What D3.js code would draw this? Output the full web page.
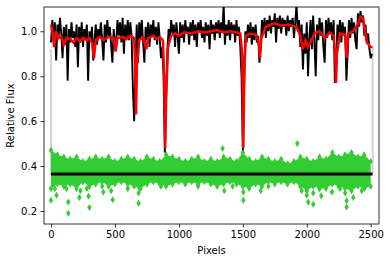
<!DOCTYPE html>
<html>
<head>
<meta charset="utf-8">
<script src="https://cdn.jsdelivr.net/npm/d3@7"></script>
<style>
  body { margin: 0; background: #fff; }
  text { font-family: "DejaVu Sans", sans-serif; }
</style>
</head>
<body>
<svg id="chart"></svg>
<script>
// observed spectrum, one value every 10 pixels (0..2510)
var fluxStep = 10;
var flux = [
  0.95, 1.05, 0.96, 1.04, 0.87, 1.03, 0.98, 1.06, 0.99, 0.88,
  1.02, 0.94, 1.03, 0.78, 1.01, 0.95, 1.04, 0.97, 1.00, 0.93,
  1.03, 0.84, 1.02, 0.96, 1.04, 0.93, 1.01, 0.97, 1.03, 0.78,
  1.00, 0.95, 1.02, 0.87, 0.96, 1.03, 0.94, 1.01, 0.97, 1.04,
  0.96, 0.87, 1.03, 0.95, 1.05, 0.98, 1.02, 0.94, 0.86, 1.01,
  0.93, 0.96, 1.05, 0.98, 1.04, 0.95, 1.06, 0.90, 1.03, 0.97,
  1.05, 0.96, 1.04, 0.98, 0.75, 0.60, 0.85, 1.03, 0.86, 1.04,
  0.97, 1.05, 0.95, 0.86, 1.02, 0.96, 1.04, 0.93, 1.03, 0.98,
  1.05, 0.96, 1.02, 0.94, 1.04, 0.97, 0.88, 0.93, 0.80, 0.46,
  0.70, 0.92, 1.01, 0.97, 1.05, 0.99, 1.03, 0.93, 1.04, 0.98,
  0.90, 1.04, 0.97, 1.03, 0.95, 1.05, 0.99, 1.02, 0.94, 1.04,
  0.98, 1.05, 0.96, 1.03, 0.93, 1.04, 1.00, 1.05, 0.97, 1.02,
  0.95, 1.04, 0.98, 1.03, 0.92, 1.05, 0.99, 1.03, 0.96, 1.04,
  0.99, 1.05, 0.97, 1.04, 1.00, 1.12, 0.94, 1.03, 0.98, 1.05,
  0.96, 1.04, 0.99, 1.03, 0.95, 1.05, 0.98, 1.02, 0.93, 0.80,
  0.47, 0.75, 1.00, 0.95, 1.03, 0.97, 1.04, 0.94, 1.02, 0.96,
  1.03, 0.95, 0.98, 0.86, 0.93, 1.05, 0.99, 1.06, 0.97, 1.05,
  1.00, 1.07, 0.99, 1.05, 1.02, 1.08, 0.95, 1.06, 1.01, 1.07,
  0.99, 1.06, 1.02, 1.05, 0.98, 1.07, 1.00, 1.05, 1.02, 1.06,
  0.97, 1.04, 1.12, 1.00, 1.05, 0.93, 1.03, 0.83, 0.99, 0.90,
  1.04, 0.80, 0.97, 1.05, 0.92, 1.07, 0.95, 0.80, 1.03, 0.96,
  1.06, 0.98, 1.04, 0.93, 0.86, 1.05, 0.97, 1.06, 0.99, 1.04,
  0.96, 1.05, 0.77, 0.85, 1.03, 0.97, 1.05, 0.95, 1.04, 0.98,
  1.02, 0.78, 0.90, 1.05, 0.97, 1.06, 0.99, 1.04, 0.96, 0.92,
  1.08, 1.02, 1.09, 1.04, 1.07, 0.98, 1.03, 0.95, 0.99, 0.92,
  0.88, 0.90
];

// smoothed model, [pixel, flux]
var model = [
  [0,1.03],[10,1.0],[25,0.93],[40,1.0],[60,0.97],[80,0.975],[100,0.94],[120,0.97],
  [150,0.965],[175,0.95],[200,0.97],[230,0.955],[250,0.97],[280,0.96],[300,0.97],
  [320,0.95],[336,0.88],[350,0.96],[380,0.975],[410,0.96],[450,0.975],
  [490,0.97],[505,0.91],[520,0.97],[560,0.975],[590,0.965],[620,0.98],[650,0.97],[658,0.85],
  [665,0.63],[672,0.85],[690,0.96],[720,0.975],[745,0.92],[760,0.97],[800,0.98],
  [830,0.965],[850,0.975],[875,0.96],[885,0.8],[893,0.48],[900,0.7],[915,0.93],[940,0.98],
  [970,0.99],[1000,0.98],[1040,0.995],[1100,0.99],[1150,1.0],[1200,0.995],[1250,1.0],
  [1300,1.005],[1350,0.995],[1400,1.0],[1450,0.995],[1480,0.99],[1495,0.9],
  [1504,0.48],[1512,0.85],[1525,0.98],[1560,0.99],[1600,0.985],[1625,0.95],[1634,0.88],
  [1645,0.97],[1680,1.02],[1720,1.03],[1750,1.035],[1800,1.025],[1850,1.03],[1920,1.02],
  [1950,0.98],[1970,0.92],[1990,0.96],[2010,0.93],[2040,0.96],[2060,0.99],[2100,1.0],
  [2140,0.97],[2180,0.995],[2210,0.98],[2222,0.9],[2229,0.77],[2236,0.9],[2260,0.99],
  [2300,0.985],[2312,0.88],[2325,0.99],[2360,1.0],[2400,1.03],[2420,1.065],[2440,1.06],
  [2470,0.95],[2500,0.93],[2515,0.93]
];

// residual band envelopes, one value every 50 pixels (0..2500)
var residStep = 50;
var residHi = [
  0.47, 0.45, 0.44, 0.43, 0.44, 0.42, 0.43, 0.44, 0.43, 0.44,
  0.42, 0.43, 0.44, 0.43, 0.42, 0.44, 0.43, 0.42, 0.45, 0.44,
  0.43, 0.42, 0.43, 0.44, 0.42, 0.43, 0.42, 0.44, 0.43, 0.42,
  0.46, 0.43, 0.42, 0.44, 0.43, 0.42, 0.43, 0.41, 0.42, 0.44,
  0.43, 0.42, 0.44, 0.43, 0.46, 0.44, 0.45, 0.46, 0.44, 0.45,
  0.42
];
var residLo = [
  0.30, 0.32, 0.31, 0.32, 0.30, 0.33, 0.31, 0.32, 0.33, 0.31,
  0.32, 0.33, 0.32, 0.31, 0.30, 0.32, 0.33, 0.32, 0.31, 0.32,
  0.33, 0.32, 0.33, 0.32, 0.33, 0.32, 0.31, 0.32, 0.33, 0.32,
  0.31, 0.30, 0.32, 0.31, 0.33, 0.32, 0.33, 0.32, 0.33, 0.31,
  0.29, 0.31, 0.30, 0.30, 0.32, 0.31, 0.30, 0.29, 0.31, 0.30,
  0.31
];
// isolated residual points, [pixel, value]
var residOut = [
  [0,0.248],[43,0.27],[30,0.30],[135,0.24],[135,0.19],[120,0.30],[222,0.26],[230,0.29],
  [293,0.265],[300,0.216],[280,0.30],[409,0.285],[400,0.31],[482,0.25],[470,0.29],
  [600,0.30],[685,0.234],[685,0.28],[690,0.305],[860,0.31],[1150,0.31],[1342,0.478],
  [1355,0.29],[1420,0.31],[1504,0.248],[1504,0.285],[1640,0.29],[1700,0.31],[1926,0.50],
  [1960,0.29],[2000,0.27],[2012,0.24],[2051,0.23],[2051,0.28],[2113,0.268],[2100,0.30],
  [2198,0.285],[2260,0.30],[2312,0.218],[2312,0.245],[2300,0.28],[2364,0.26],
  [2430,0.29],[2460,0.31]
];
var residLevel = 0.365;
var pixelRange = [0, 2515];

// edges of the spectrum (grey)
var edgeLines = [
  [[0,0.92],[0,0.36]],
  [[2515,0.93],[2515,0.37]]
];

var xTicks = [0, 500, 1000, 1500, 2000, 2500];
var yTicks = [0.2, 0.4, 0.6, 0.8, 1.0];

var width = 390, height = 262;
var margin = {top: 7, right: 11, bottom: 38, left: 44};

var x = d3.scaleLinear().domain([-55, 2565]).range([margin.left, width - margin.right]);
var y = d3.scaleLinear().domain([0.142, 1.108]).range([height - margin.bottom, margin.top]);

var svg = d3.select('#chart').attr('width', width).attr('height', height);

svg.append('clipPath').attr('id', 'clip')
  .append('rect')
  .attr('x', margin.left).attr('y', margin.top)
  .attr('width', width - margin.left - margin.right)
  .attr('height', height - margin.top - margin.bottom);

var plot = svg.append('g').attr('clip-path', 'url(#clip)');

// grey edges
edgeLines.forEach(function(seg){
  plot.append('path')
    .attr('d', d3.line().x(d => x(d[0])).y(d => y(d[1]))(seg))
    .attr('stroke', '#d3d3d3').attr('stroke-width', 2).attr('fill', 'none');
});

// residual band
var green = '#32cd32';
var band = residHi.map(function(h, i){ return {px: i * residStep, hi: h, lo: residLo[i]}; });
plot.append('path')
  .attr('d', d3.area().x(d => x(d.px)).y0(d => y(d.lo)).y1(d => y(d.hi))(band))
  .attr('fill', green);

var diamond = 'M0,-3.5L2.2,0L0,3.5L-2.2,0Z';
var pts = [];
band.forEach(function(d){ pts.push([d.px, d.hi]); pts.push([d.px, d.lo]); });
residOut.forEach(function(d){ pts.push(d); });
plot.selectAll('path.res')
  .data(pts)
  .enter().append('path')
  .attr('class', 'res')
  .attr('d', diamond)
  .attr('transform', d => 'translate(' + x(d[0]) + ',' + y(d[1]) + ')')
  .attr('fill', green);

// residual level
plot.append('line')
  .attr('x1', x(pixelRange[0])).attr('x2', x(pixelRange[1]))
  .attr('y1', y(residLevel)).attr('y2', y(residLevel))
  .attr('stroke', '#000').attr('stroke-width', 3);

// spectrum
plot.append('path')
  .attr('d', d3.line().x((d, i) => x(i * fluxStep)).y(d => y(d))(flux))
  .attr('stroke', '#000').attr('stroke-width', 1.9).attr('fill', 'none');

// model
plot.append('path')
  .attr('d', d3.line().x(d => x(d[0])).y(d => y(d[1]))(model))
  .attr('stroke', '#ff0000').attr('stroke-width', 2.5).attr('fill', 'none');

// axes
var xAxis = d3.axisBottom(x).tickValues(xTicks).tickSize(3.5).tickPadding(3.5).tickFormat(d3.format('d'));
var yAxis = d3.axisLeft(y).tickValues(yTicks).tickSize(3.5).tickPadding(3.5).tickFormat(d3.format('.1f'));

var gx = svg.append('g')
  .attr('transform', 'translate(0,' + (height - margin.bottom) + ')')
  .call(xAxis);
var gy = svg.append('g')
  .attr('transform', 'translate(' + margin.left + ',0)')
  .call(yAxis);
[gx, gy].forEach(function(g){
  g.select('.domain').remove();
  g.selectAll('line').attr('stroke', '#000').attr('stroke-width', 0.8);
  g.selectAll('text').attr('fill', '#000').style('font-size', '10px')
    .style('font-family', '"DejaVu Sans", sans-serif');
});

// frame
svg.append('rect')
  .attr('x', margin.left).attr('y', margin.top)
  .attr('width', width - margin.left - margin.right)
  .attr('height', height - margin.top - margin.bottom)
  .attr('fill', 'none').attr('stroke', '#000').attr('stroke-width', 0.8);

svg.append('text')
  .attr('x', (margin.left + width - margin.right) / 2)
  .attr('y', 254)
  .attr('text-anchor', 'middle')
  .style('font-size', '10px')
  .text('Pixels');

svg.append('text')
  .attr('transform', 'translate(14,' + ((margin.top + height - margin.bottom) / 2) + ') rotate(-90)')
  .attr('text-anchor', 'middle')
  .style('font-size', '10px')
  .text('Relative Flux');
</script>
</body>
</html>
